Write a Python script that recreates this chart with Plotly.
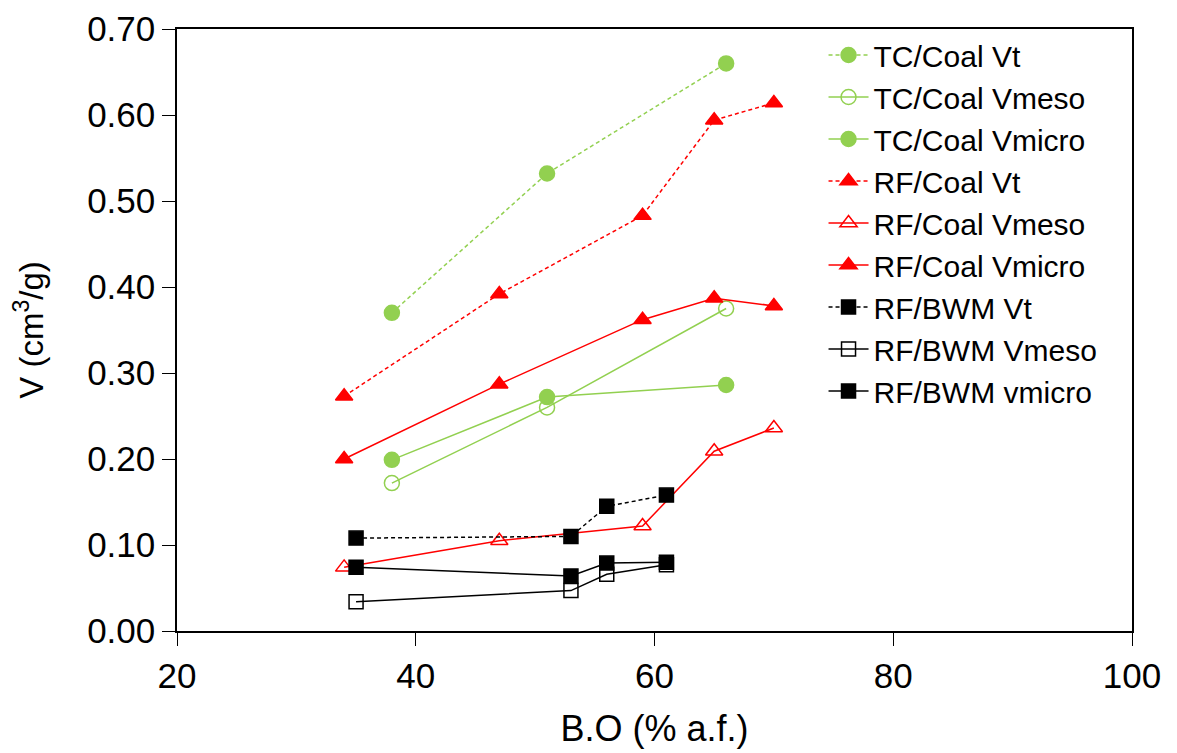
import plotly.graph_objects as go

# B.O (% a.f.) values for each sample set
bo_tc = [38, 51, 66]
bo_rf_coal = [34, 47, 59, 65, 70]
bo_rf_bwm = [35, 53, 56, 61]

# pore volumes, cm3/g
tc_vt = [0.370, 0.532, 0.660]
tc_vmeso = [0.172, 0.260, 0.375]
tc_vmicro = [0.199, 0.272, 0.286]

rf_coal_vt = [0.273, 0.392, 0.483, 0.594, 0.614]
rf_coal_vmeso = [0.074, 0.105, 0.122, 0.209, 0.236]
rf_coal_vmicro = [0.200, 0.287, 0.362, 0.387, 0.378]

rf_bwm_vt = [0.108, 0.110, 0.145, 0.158]
rf_bwm_vmeso = [0.034, 0.047, 0.066, 0.077]
rf_bwm_vmicro = [0.074, 0.064, 0.079, 0.080]

green = '#92d050'
red = '#ff0000'
black = '#000000'

series = [
    ('TC/Coal Vt', bo_tc, tc_vt, green, 'circle', 'dash'),
    ('TC/Coal Vmeso', bo_tc, tc_vmeso, green, 'circle-open', 'solid'),
    ('TC/Coal Vmicro', bo_tc, tc_vmicro, green, 'circle', 'solid'),
    ('RF/Coal Vt', bo_rf_coal, rf_coal_vt, red, 'triangle-up', 'dash'),
    ('RF/Coal Vmeso', bo_rf_coal, rf_coal_vmeso, red, 'triangle-up-open', 'solid'),
    ('RF/Coal Vmicro', bo_rf_coal, rf_coal_vmicro, red, 'triangle-up', 'solid'),
    ('RF/BWM Vt', bo_rf_bwm, rf_bwm_vt, black, 'square', 'dash'),
    ('RF/BWM Vmeso', bo_rf_bwm, rf_bwm_vmeso, black, 'square-open', 'solid'),
    ('RF/BWM vmicro', bo_rf_bwm, rf_bwm_vmicro, black, 'square', 'solid'),
]

fig = go.Figure()

for name, xs, ys, color, symbol, dash in series:
    size = 14 if 'square' in symbol else 15
    fig.add_trace(go.Scatter(
        x=xs,
        y=ys,
        mode='lines+markers',
        name=name,
        line=dict(color=color, width=1.5, dash='4px,3px' if dash == 'dash' else 'solid'),
        marker=dict(symbol=symbol, size=size, color=color,
                    line=dict(color=color, width=1.5))
    ))

tick_font = dict(family='Liberation Sans, Arial, sans-serif', size=35, color='black')
title_font = dict(family='Liberation Sans, Arial, sans-serif', size=36, color='black')

fig.update_layout(
    width=1177,
    height=753,
    paper_bgcolor='white',
    plot_bgcolor='white',
    margin=dict(l=169, r=53, t=21, b=130),
    font=dict(family='Liberation Sans, Arial, sans-serif', color='black'),
    legend=dict(
        x=0.677, y=1.0, xanchor='left', yanchor='top',
        font=dict(size=30),
        bgcolor='rgba(0,0,0,0)',
        itemwidth=40,
        tracegroupgap=0
    ),
    xaxis=dict(
        range=[20, 100],
        tickvals=[20, 40, 60, 80, 100],
        ticks='outside',
        ticklen=13,
        tickcolor='black',
        showline=True,
        linecolor='black',
        linewidth=1.5,
        mirror=True,
        showgrid=False,
        zeroline=False,
        automargin=False,
        tickfont=tick_font,
        title=dict(text='B.O (% a.f.)', font=title_font, standoff=22)
    ),
    yaxis=dict(
        range=[0, 0.70],
        tickvals=[0, 0.1, 0.2, 0.3, 0.4, 0.5, 0.6, 0.7],
        tickformat='.2f',
        ticks='outside',
        ticklen=13,
        tickcolor='black',
        showline=True,
        linecolor='black',
        linewidth=1.5,
        mirror=True,
        showgrid=False,
        zeroline=False,
        automargin=False,
        tickfont=tick_font,
        title=dict(text='V (cm<sup>3</sup>/g)', font=dict(size=33), standoff=46)
    )
)

fig.write_html("out.html")
